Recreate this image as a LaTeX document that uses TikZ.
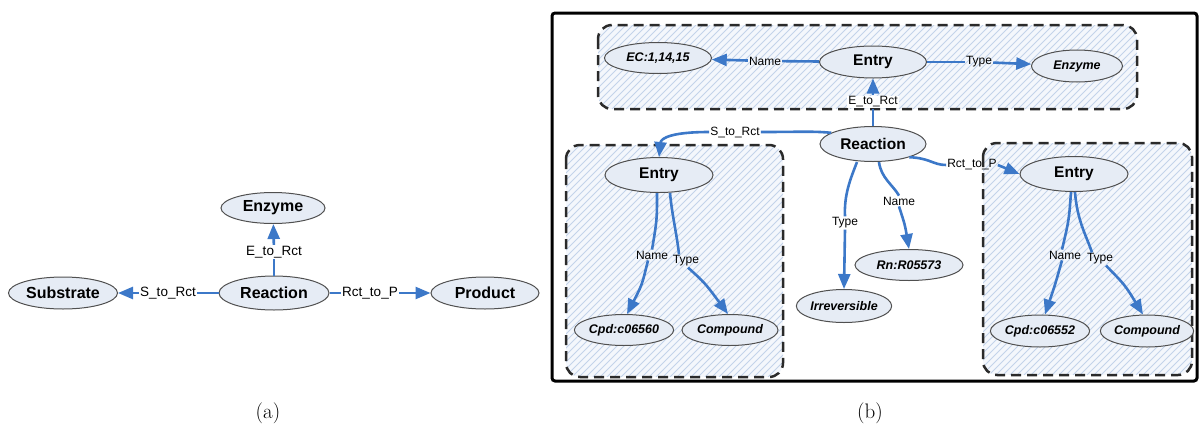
\documentclass[tikz,border=0pt]{standalone}
\usepackage{fontspec}
\newfontfamily\arial{Liberation Sans}
\usetikzlibrary{shapes.geometric,arrows.meta,calc}
\definecolor{edgeblue}{HTML}{3C78C8}
\definecolor{nodefill}{HTML}{E6ECF5}
\definecolor{nodeline}{HTML}{505050}
\definecolor{hatchc}{HTML}{C3D3EA}
\definecolor{groupfill}{HTML}{F4F7FC}
\definecolor{dashc}{HTML}{2A2A2A}
\tikzset{
 ent/.style={ellipse, draw=nodeline, line width=1pt, fill=nodefill, inner sep=0pt, font=\arial\bfseries\fontsize{15.5}{18}\selectfont},
 entA/.style={ent, font=\arial\bfseries\fontsize{16}{19}\selectfont},
 leaf/.style={ent, font=\arial\bfseries\itshape\fontsize{12.5}{15}\selectfont},
 elab/.style={inner sep=1pt, font=\arial\fontsize{12}{14}\selectfont},
 elabA/.style={inner sep=1pt, font=\arial\fontsize{13.5}{16}\selectfont},
 edge/.style={draw=edgeblue, line width=2.6pt},
 arr/.style={edge, -{Triangle[length=15pt,width=12pt]}},
 grp/.style={draw=dashc, line width=2.5pt, dash pattern=on 10pt off 6pt, rounded corners=14pt},
 capt/.style={font=\fontsize{21}{25}\selectfont}
}
\newcommand\hatchgroup[4]{%
 \begin{scope}
 \clip[rounded corners=14pt] (#1,#2) rectangle (#3,#4);
 \fill[groupfill] (#1,#2) rectangle (#3,#4);
 \pgfmathsetmacro\hh{#4-#2}
 \pgfmathsetmacro\xs{#1-\hh}
 \pgfmathsetmacro\xn{#1-\hh+7}
 \foreach \k in {\xs,\xn,...,#3} \draw[hatchc, line width=0.9pt] (\k,#4) -- ++(\hh,-\hh);
 \end{scope}
 \draw[grp] (#1,#2) rectangle (#3,#4);}
\begin{document}
\begin{tikzpicture}[x=1pt,y=-1pt]
\useasboundingbox (0,0) rectangle (1200,429);
% ---------- panel (a)
\node[entA, minimum width=104pt, minimum height=31pt] (aE) at (273,208) {Enzyme};
\node[entA, minimum width=110pt, minimum height=34pt] (aR) at (274,293) {Reaction};
\node[entA, minimum width=109pt, minimum height=32pt] (aS) at (63,293) {Substrate};
\node[entA, minimum width=108pt, minimum height=32pt] (aP) at (485,293) {Product};
\node[elabA] (laE) at (274,252) {E\_to\_Rct};
\node[elabA] (laS) at (168,293) {S\_to\_Rct};
\node[elabA] (laP) at (370,293) {Rct\_to\_P};
\draw[edge] (aR) -- (laE);
\draw[arr] (laE) -- (aE);
\draw[edge] (aR) -- (laS);
\draw[arr] (laS) -- (aS);
\draw[edge] (aR) -- (laP);
\draw[arr] (laP) -- (aP);
\node[capt] (ca) at (268,413) {(a)};
% ---------- panel (b)
\draw[line width=3pt, rounded corners=3pt] (552,13) rectangle (1197,381);
\hatchgroup{598}{25}{1137}{109}
\hatchgroup{566}{145}{783}{377}
\hatchgroup{983}{143}{1192}{375}
% top group
\node[ent, minimum width=107pt, minimum height=32pt] (Et) at (873,62) {Entry};
\node[leaf, minimum width=107pt, minimum height=31pt] (EC) at (658,58) {EC:1,14,15};
\node[leaf, minimum width=91pt, minimum height=32pt] (Ez) at (1077,66) {Enzyme};
\node[elab] (lN1) at (765,61) {Name};
\node[elab] (lT1) at (979,62) {Type};
\node[elab, fill=white] (lE) at (873,102) {E\_to\_Rct};
\node[ent, minimum width=106pt, minimum height=35pt] (Rb) at (873,144) {Reaction};
\draw[edge] (Et) -- (lN1);
\draw[arr] (lN1) -- (EC);
\draw[edge] (Et) -- (lT1);
\draw[arr] (lT1) -- (Ez);
\draw[edge] (Rb) -- (lE);
\draw[arr] (lE) -- (Et);
% left group
\node[ent, minimum width=108pt, minimum height=35pt] (EL) at (659,175) {Entry};
\node[leaf, minimum width=95pt, minimum height=31pt] (CL) at (624,330) {Cpd:c06560};
\node[leaf, minimum width=96pt, minimum height=31pt] (ML) at (730,330) {Compound};
\node[elab] (lNL) at (652,255) {Name};
\node[elab] (lTL) at (686,261) {Type};
\node[elab] (lS) at (735,132) {S\_to\_Rct};
\draw[edge] (Rb.165) .. controls (812,131) and (800,132) .. (lS.east);
\draw[arr] (lS.west) .. controls (672,132) and (661,138) .. (EL.north);
\draw[edge] ($(EL.south)+(-2,0)$) .. controls (657,220) .. (lNL.north);
\draw[arr] ($(lNL.south)+(-4,0)$) .. controls (642,285) .. ($(CL.north)+(3,0)$);
\draw[edge] ($(EL.south)+(11,0)$) .. controls (672,215) and (677,235) .. ($(lTL.north)+(-7,0)$);
\draw[arr] ($(lTL.south)+(2,0)$) .. controls (705,283) .. ($(ML.north)+(-2,0)$);
% middle
\node[leaf, minimum width=82pt, minimum height=33pt] (Irr) at (844,306) {Irreversible};
\node[leaf, minimum width=108pt, minimum height=31pt] (Rn) at (909,265) {Rn:R05573};
\node[elab] (lTM) at (845,223) {Type};
\node[elab] (lNM) at (899,201) {Name};
\draw[edge] ($(Rb.south)+(-16,0)$) .. controls (850,180) and (844,195) .. (lTM.north);
\draw[arr] (lTM.south) -- (Irr.north);
\draw[edge] ($(Rb.south)+(6,0)$) .. controls (881,178) and (893,185) .. (lNM.north);
\draw[arr] (lNM.south) .. controls (905,225) .. (Rn.north);
% right group
\node[ent, minimum width=108pt, minimum height=35pt] (ER) at (1074,174) {Entry};
\node[leaf, minimum width=90pt, minimum height=32pt] (CR) at (1040,331) {Cpd:c06552};
\node[leaf, minimum width=90pt, minimum height=32pt] (MR) at (1147,331) {Compound};
\node[elab] (lNR) at (1065,255) {Name};
\node[elab] (lTR) at (1100,259) {Type};
\node[elab] (lR) at (972,165) {Rct\_to\_P};
\draw[edge] (Rb.-20) .. controls (930,158) and (933,165) .. (lR.west);
\draw[arr] (lR.east) -- (ER.west);
\draw[edge] ($(ER.south)+(-3,0)$) .. controls (1069,220) .. ($(lNR.north)+(-3,0)$);
\draw[arr] ($(lNR.south)+(-3,0)$) .. controls (1055,285) .. ($(CR.north)+(5,0)$);
\draw[edge] ($(ER.south)+(1,0)$) .. controls (1077,220) and (1086,235) .. ($(lTR.north)+(-8,0)$);
\draw[arr] ($(lTR.south)+(6,0)$) .. controls (1125,285) .. ($(MR.north)+(-4,0)$);
\node[capt] (cb) at (870,413) {(b)};
\end{tikzpicture}
\end{document}
